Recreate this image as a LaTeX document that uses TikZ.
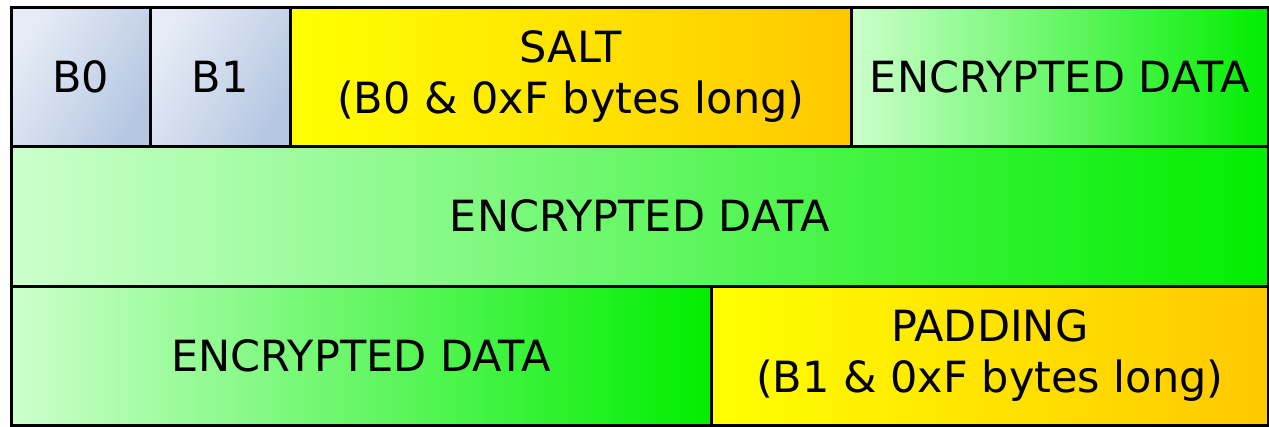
\documentclass[tikz,border=0pt]{standalone}
\usepackage{fontspec}
\setmainfont{DejaVu Sans}
\usepackage{xcolor}

\definecolor{byteLight}{HTML}{E6ECF6}
\definecolor{byteDark}{HTML}{B6C7E2}
\definecolor{dataLight}{HTML}{CCFFCC}
\definecolor{dataMid}{HTML}{80FA80}
\definecolor{dataDark}{HTML}{00EE00}
\definecolor{padLight}{HTML}{FFFF00}
\definecolor{padDark}{HTML}{FFC800}

\tikzset{
    cell/.style={draw=black, line width=2.6pt, anchor=north west, inner sep=0pt,
        align=center, font=\fontsize{43}{51}\selectfont},
    bytecell/.style={cell, left color=byteLight, right color=byteDark, shading angle=60},
    datacell/.style={cell, left color=dataLight, middle color=dataMid, right color=dataDark},
    padcell/.style={cell, left color=padLight, right color=padDark}
}

\begin{document}
\begin{tikzpicture}[x=1pt, y=-1pt]
    \useasboundingbox (0,0) rectangle (1269,426);
    % first row
    \node[bytecell, minimum width=139pt, minimum height=139pt] (b0) at (10,6) {B0};
    \node[bytecell, minimum width=140pt, minimum height=139pt] (b1) at (149,6) {B1};
    \node[padcell, minimum width=561pt, minimum height=139pt] (salt) at (289,6) {SALT\\(B0 \& 0xF bytes long)};
    \node[datacell, minimum width=417pt, minimum height=139pt] (enc1) at (850,6) {ENCRYPTED DATA};
    % second row
    \node[datacell, minimum width=1257pt, minimum height=140pt] (enc2) at (10,145) {ENCRYPTED DATA};
    % third row
    \node[datacell, minimum width=700pt, minimum height=139pt] (enc3) at (10,285) {ENCRYPTED DATA};
    \node[padcell, minimum width=557pt, minimum height=139pt] (pad) at (710,285) {PADDING\\(B1 \& 0xF bytes long)};
\end{tikzpicture}
\end{document}
